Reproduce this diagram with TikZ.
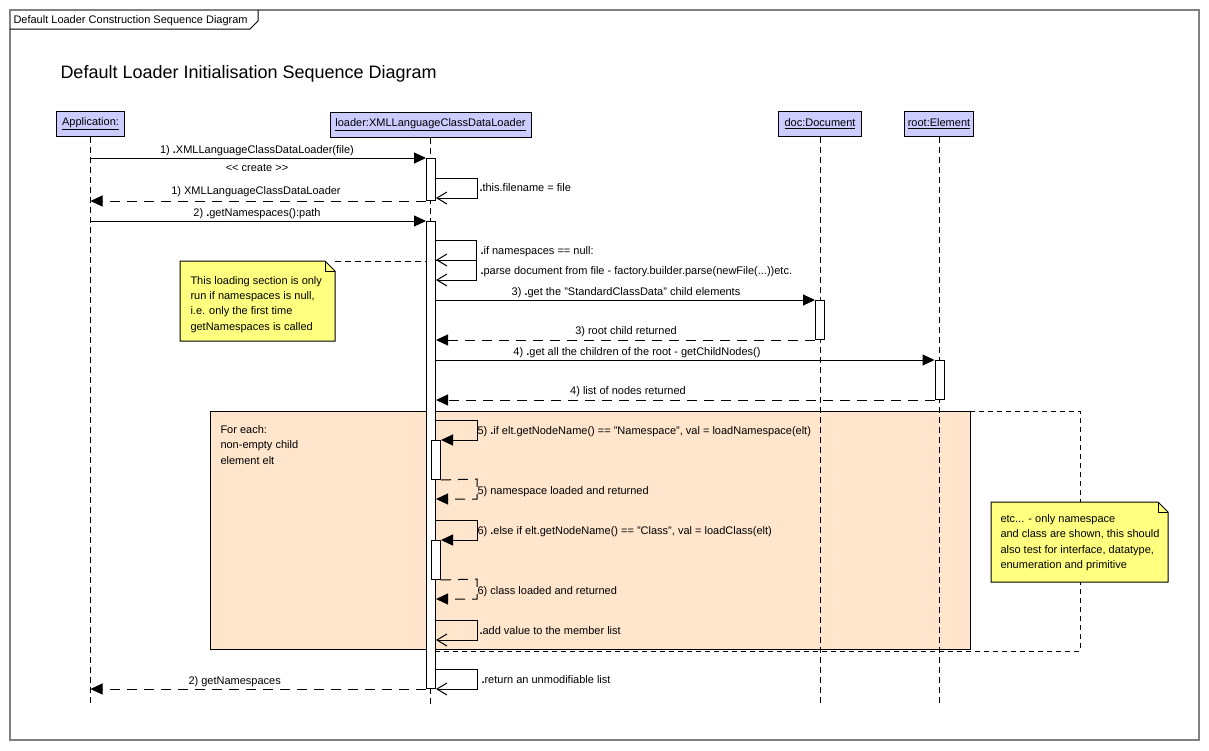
\documentclass[tikz,border=0pt]{standalone}
\usepackage{fontspec}
\setmainfont{Liberation Sans}
\usetikzlibrary{arrows.meta,positioning}

\definecolor{objblue}{RGB}{204,204,255}
\definecolor{noteyellow}{RGB}{255,255,128}
\definecolor{looppeach}{RGB}{254,229,204}
\definecolor{framegray}{RGB}{128,128,128}

\newcommand{\opdot}{{\bfseries .}}

\tikzset{
	obj/.style={draw, fill=objblue, minimum height=25pt, inner sep=0pt},
	life/.style={dash pattern=on 6pt off 4pt},
	actbar/.style={draw, fill=white, anchor=north, minimum width=9pt, inner sep=0pt},
	call/.style={-{Triangle[length=12pt,width=11pt]}},
	reply/.style={call, dash pattern=on 10pt off 7pt},
	selfcall/.style={-{Straight Barb[length=10pt,width=12pt]}},
	msg/.style={inner sep=0pt, text height=8pt, text depth=2pt},
	notebox/.style={draw, fill=noteyellow},
	notetxt/.style={anchor=north west, inner sep=0pt, align=left, font=\fontsize{11}{15.4}\selectfont},
	notelink/.style={dash pattern=on 6pt off 4pt}
}

\begin{document}
\begin{tikzpicture}[x=1pt, y=-1pt, line width=1pt, font=\fontsize{11}{13}\selectfont]
	\useasboundingbox (0,0) rectangle (1209,750);
	% frame and its name tab
	\draw[framegray, line width=1.4pt] (10,10) rectangle (1199,740);
	\draw (10,29) -- (250,29) -- (258,21) -- (258,10);
	\node[msg, anchor=west] (frametab) at (13,20) {Default Loader Construction Sequence Diagram};
	\node[anchor=west, inner sep=0pt, font=\fontsize{18}{22}\selectfont] (title) at (60,74) {Default Loader Initialisation Sequence Diagram};

	% loop region
	\fill[looppeach] (210,411) rectangle (970,649);
	\draw (210,411) rectangle (970,649);
	\draw[line width=0.8pt, dash pattern=on 5pt off 4pt] (435,651) -- (1080,651) -- (1080,411) -- (970,411);
	\node[notetxt] (loop) at (220,425) {For each:\\non-empty child\\element elt};

	% objects and lifelines
	\node[obj, minimum width=68pt] (app) at (90.5,124) {\underline{Application:}};
	\node[obj, minimum width=201pt] (loader) at (430.5,124.5) {\underline{loader:XMLLanguageClassDataLoader}};
	\node[obj, minimum width=83pt] (doc) at (820,124) {\underline{doc:Document}};
	\node[obj, minimum width=69pt] (root) at (939,124) {\underline{root:Element}};
	\coordinate (bottom) at (0,705);
	\foreach \o in {app,loader,doc,root}
		\draw[life] (\o.south) -- (\o.south |- bottom);

	% activations
	\node[actbar, minimum height=42pt] (act1) at (431,158) {};
	\node[actbar, minimum height=467pt] (act2) at (431,221) {};
	\node[actbar, minimum height=39pt] (actdoc) at (820,300) {};
	\node[actbar, minimum height=39pt] (actroot) at (939.5,360) {};
	\node[actbar, minimum height=39pt] (act5) at (436,440) {};
	\node[actbar, minimum height=39pt] (act6) at (436,540) {};

	% messages
	\draw[call] (app |- act1.north) -- (act1.north west);
	\node[msg] (m1) at (257,150) {1) \opdot XMLLanguageClassDataLoader(file)};
	\node[msg] (create) at (257,168) {\mbox{\textless}\mbox{\textless} create \mbox{\textgreater}\mbox{\textgreater}};
	\draw[selfcall] (act1.east |- 0,178) -| (477,198) -- (act1.east |- 0,198);
	\node[msg, anchor=west] (s1) at (479,188) {\opdot this.filename = file};
	\draw[reply] (act1.south west) -- (app |- act1.south);
	\node[msg] (r1) at (256,191) {1) XMLLanguageClassDataLoader};

	\draw[call] (app |- act2.north) -- (act2.north west);
	\node[msg] (m2) at (257,213) {2) \opdot getNamespaces():path};
	\draw[selfcall] (act2.east |- 0,240) -| (476,260) -- (act2.east |- 0,260);
	\node[msg, anchor=west] (s2) at (480,251) {\opdot if namespaces == null:};
	\draw[selfcall] (act2.east |- 0,260) -| (476,280) -- (act2.east |- 0,280);
	\node[msg, anchor=west] (s3) at (480,271) {\opdot parse document from file - factory.builder.parse(newFile(...))etc.};

	\draw[call] (act2.east |- actdoc.north) -- (actdoc.north west);
	\node[msg] (m3) at (626,292) {3) \opdot get the "StandardClassData" child elements};
	\draw[reply] (actdoc.south west) -- (act2.east |- actdoc.south);
	\node[msg] (r3) at (626,331) {3) root child returned};

	\draw[call] (act2.east |- actroot.north) -- (actroot.north west);
	\node[msg] (m4) at (637,352) {4) \opdot get all the children of the root - getChildNodes()};
	\draw[reply] (actroot.south west) -- (act2.east |- actroot.south);
	\node[msg] (r4) at (628,391) {4) list of nodes returned};

	\draw[call] (act2.east |- 0,420) -| (477,440) -- (act5.north east);
	\node[msg, anchor=west] (m5) at (477,431) {5) \opdot if elt.getNodeName() == "Namespace", val = loadNamespace(elt)};
	\draw[reply] (act5.south east) -- (477,479) |- (act2.east |- 0,499);
	\node[msg, anchor=west] (r5) at (477,491) {5) namespace loaded and returned};

	\draw[call] (act2.east |- 0,520) -| (477,540) -- (act6.north east);
	\node[msg, anchor=west] (m6) at (477,531) {6) \opdot else if elt.getNodeName() == "Class", val = loadClass(elt)};
	\draw[reply] (act6.south east) -- (477,579) |- (act2.east |- 0,599);
	\node[msg, anchor=west] (r6) at (477,591) {6) class loaded and returned};

	\draw[selfcall] (act2.east |- 0,620) -| (477,640) -- (act2.east |- 0,640);
	\node[msg, anchor=west] (s4) at (479,631) {\opdot add value to the member list};

	\draw[selfcall] (act2.east |- 0,669) -| (477,689) -- (act2.east |- 0,689);
	\node[msg, anchor=west] (s5) at (481,680) {\opdot return an unmodifiable list};
	\draw[reply] (act2.south west) -- (app |- act2.south);
	\node[msg, anchor=west] (r2) at (188,681) {2) getNamespaces};

	% notes
	\coordinate (n1c) at (335,261);
	\draw[notelink] (n1c) -- (act2.west |- n1c);
	\draw[notebox] (180,261) -- (325,261) -- (335,271) -- (335,341) -- (180,341) -- cycle;
	\draw (325,261) |- (335,271);
	\node[notetxt, font=\fontsize{11}{15.2}\selectfont] (note1) at (190,276) {This loading section is only\\run if namespaces is null,\\i.e. only the first time\\getNamespaces is called};

	\draw[notebox] (991,502) -- (1158,502) -- (1168,512) -- (1168,582) -- (991,582) -- cycle;
	\draw (1158,502) |- (1168,512);
	\node[notetxt] (note2) at (1000,514) {etc... - only namespace\\and class are shown, this should\\also test for interface, datatype,\\enumeration and primitive};
\end{tikzpicture}
\end{document}
